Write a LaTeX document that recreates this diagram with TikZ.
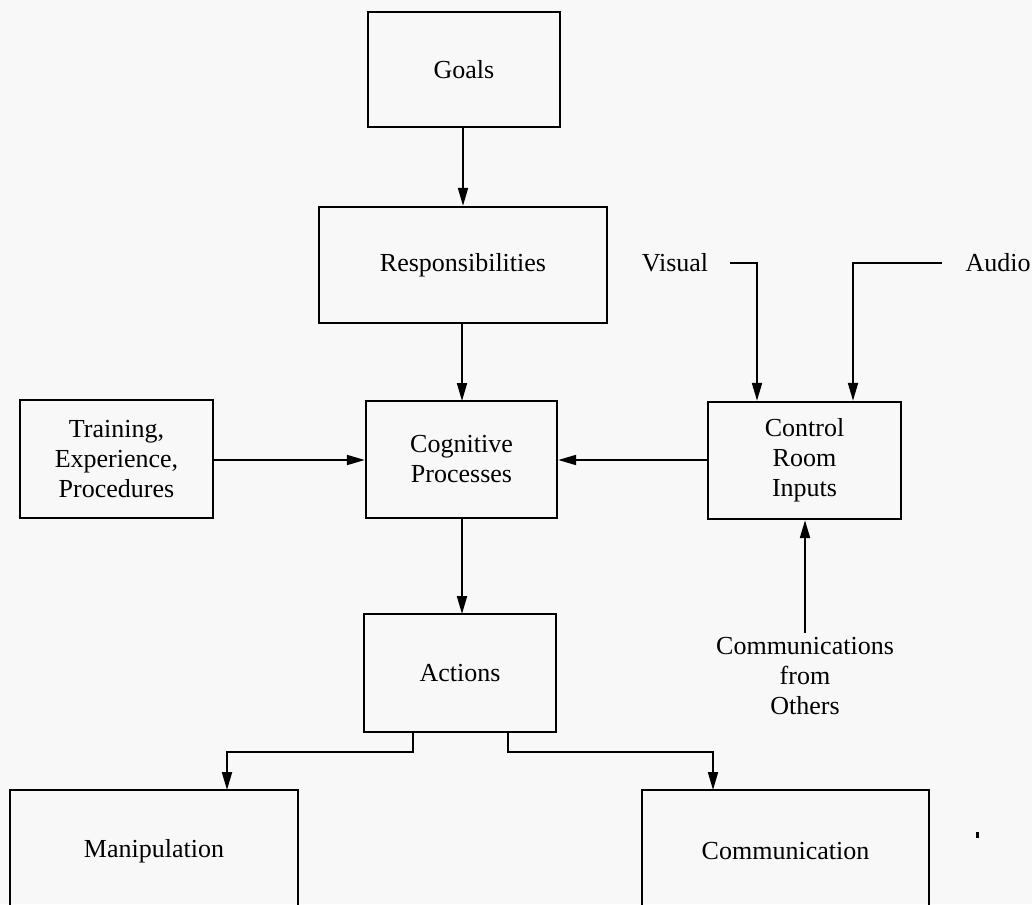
\documentclass[tikz,border=0pt]{standalone}
\usepackage{fontspec}
\setmainfont{Liberation Serif}
\usetikzlibrary{arrows.meta}
\definecolor{bg}{HTML}{F8F8F8}
\tikzset{
  x=1pt, y=-1pt,
  box/.style={draw=black, line width=2.4pt, rectangle, inner sep=0pt, align=center,
    font=\fontsize{26}{30}\selectfont},
  lbl/.style={inner sep=0pt, align=center, font=\fontsize{26}{30}\selectfont},
  arr/.style={line width=2pt, -{Triangle[length=18pt,width=10pt]}},
  ln/.style={line width=2pt}
}
\begin{document}
\begin{tikzpicture}
\fill[bg] (0,0) rectangle (1032,904);
\useasboundingbox (0,0) rectangle (1032,904);
\clip (0,0) rectangle (1032,904);

\node[box, minimum width=192pt, minimum height=115pt] (goals) at (464,69.5) {Goals};
\node[box, minimum width=288pt, minimum height=116pt] (resp) at (463,265) {Responsibilities};
\node[box, minimum width=193pt, minimum height=118pt] (train) at (116.5,459) {Training,\\Experience,\\Procedures};
\node[box, minimum width=191pt, minimum height=117pt] (cog) at (461.5,459.5) {Cognitive\\Processes};
\node[box, minimum width=193pt, minimum height=117pt] (ctrl) at (804.5,460.5) {Control\\Room\\Inputs};
\node[box, minimum width=192pt, minimum height=118pt] (act) at (460,673) {Actions};
\node[box, minimum width=288pt, minimum height=122pt] (manip) at (154,851) {Manipulation};
\node[box, minimum width=287pt, minimum height=122pt] (comm) at (785.5,851) {Communication};

\node[lbl] (visual) at (675,263) {Visual};
\node[lbl] (audio) at (998,263) {Audio};
\node[lbl] (others) at (805,676) {Communications\\from\\Others};

\coordinate (vstart) at (730,263);
\coordinate (vturn) at (757,263);
\coordinate (astart) at (942,263);
\coordinate (aturn) at (853,263);
\coordinate (ostart) at (805,633);
\coordinate (aL) at (413,732);
\coordinate (aR) at (508,732);
\coordinate (mL) at (227,790);
\coordinate (mR) at (713,790);

\draw[arr] (goals.south -| resp.north) -- (resp.north);
\draw[arr] (462,323) -- (462,401);
\draw[arr] (train.east |- 0,460) -- (cog.west |- 0,460);
\draw[arr] (ctrl.west |- 0,460) -- (cog.east |- 0,460);
\draw[arr] (462,518) -- (462,614);
\draw[arr] (vstart) -- (vturn) -- (vturn |- ctrl.north);
\draw[arr] (astart) -- (aturn) -- (aturn |- ctrl.north);
\draw[arr] (ostart) -- (ostart |- ctrl.south);
\draw[arr] (aL) -- (413,752) -| (mL);
\draw[arr] (aR) -- (508,752) -| (mR);

\fill[black] (976,832) rectangle (978.5,838);
\end{tikzpicture}
\end{document}
